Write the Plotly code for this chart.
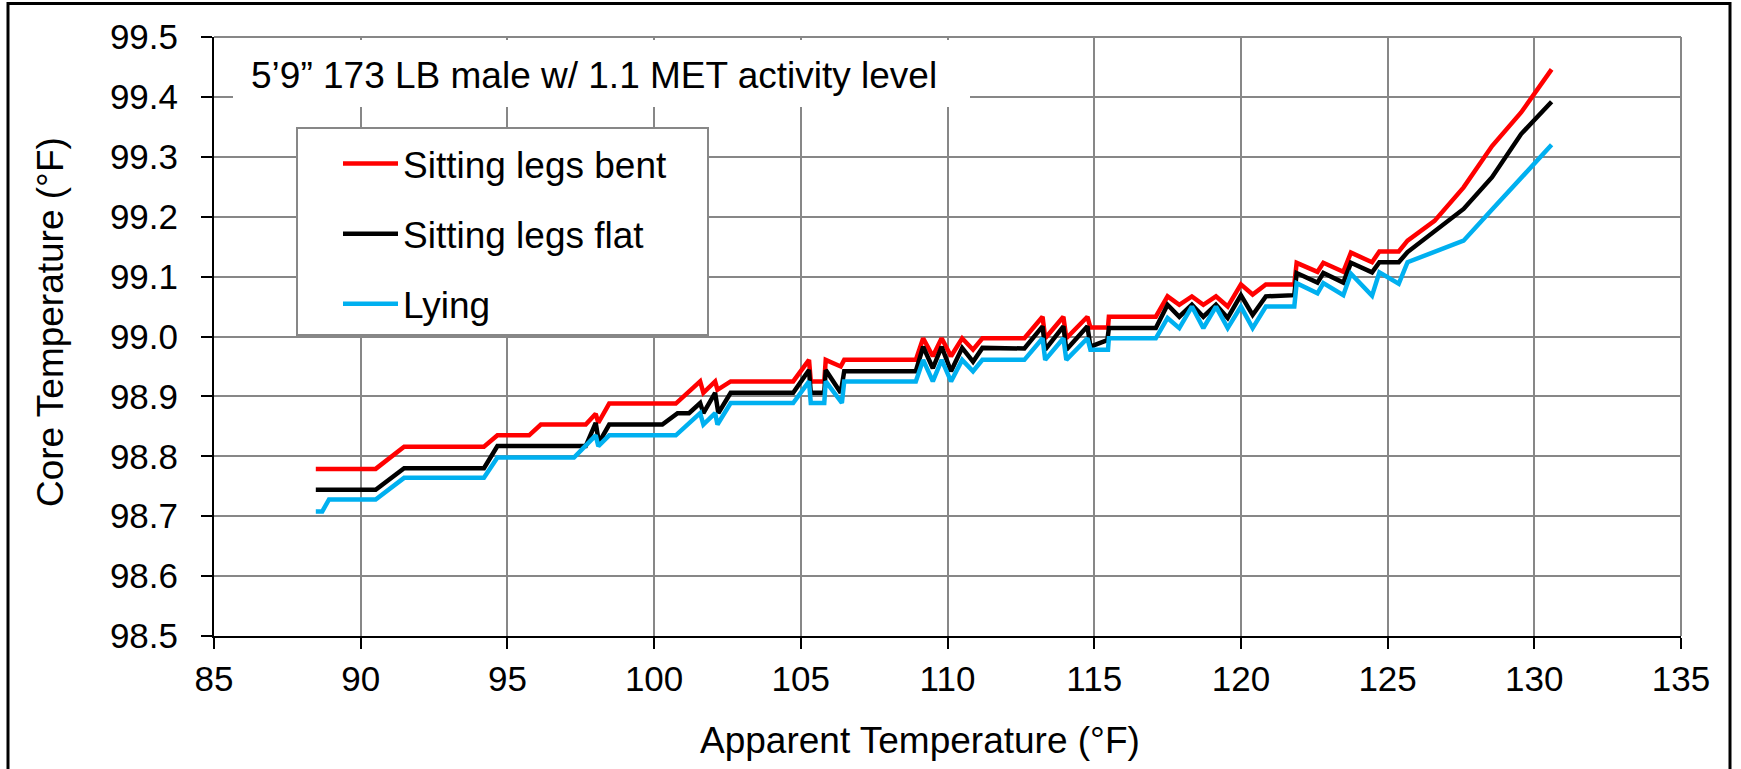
import plotly.graph_objects as go

# ---------------- data ----------------
series_names = ["Sitting legs bent", "Sitting legs flat", "Lying"]

red_x = [88.47, 90.51, 91.48, 94.2, 94.66, 95.74, 96.14, 97.67, 98.01, 98.1, 98.47, 100.74,
         101.57, 101.68, 102.08, 102.16, 102.61, 104.74, 105.28, 105.34, 105.8, 105.85, 106.36,
         106.48, 108.92, 109.17, 109.5, 109.8, 110.12, 110.5, 110.87, 111.19, 112.62, 113.24,
         113.33, 113.95, 114.05, 114.77, 114.87, 115.47, 115.5, 117.1, 117.5, 117.9, 118.33,
         118.72, 119.15, 119.55, 120.0, 120.4, 120.85, 121.82, 121.9, 122.61, 122.81, 123.49,
         123.75, 124.47, 124.72, 125.38, 125.68, 126.6, 127.59, 128.56, 129.55, 130.59]
red_y = [98.779, 98.779, 98.816, 98.816, 98.835, 98.835, 98.853, 98.853, 98.871, 98.856, 98.888,
         98.888, 98.925, 98.906, 98.925, 98.911, 98.925, 98.925, 98.961, 98.925, 98.925, 98.961,
         98.950, 98.961, 98.961, 98.997, 98.967, 98.997, 98.967, 98.997, 98.978, 98.997, 98.997,
         99.033, 98.997, 99.033, 98.997, 99.033, 99.015, 99.015, 99.033, 99.033, 99.067, 99.053,
         99.067, 99.053, 99.067, 99.050, 99.087, 99.070, 99.087, 99.087, 99.123, 99.108, 99.123,
         99.108, 99.140, 99.124, 99.142, 99.142, 99.160, 99.193, 99.249, 99.318, 99.374, 99.446]

black_x = [88.47, 90.51, 91.48, 94.2, 94.66, 97.67, 98.01, 98.12, 98.47, 100.28, 100.8, 101.19,
           101.57, 101.68, 102.08, 102.19, 102.61, 104.74, 105.28, 105.34, 105.8, 105.85, 106.36,
           106.48, 108.92, 109.17, 109.5, 109.8, 110.12, 110.5, 110.87, 111.19, 112.62, 113.24,
           113.33, 113.95, 114.05, 114.77, 114.87, 115.45, 115.5, 117.1, 117.5, 117.9, 118.33,
           118.72, 119.15, 119.55, 120.0, 120.4, 120.85, 121.82, 121.9, 122.61, 122.81, 123.49,
           123.75, 124.47, 124.72, 125.38, 125.68, 126.6, 127.59, 128.56, 129.55, 130.59]
black_y = [98.744, 98.744, 98.780, 98.780, 98.817, 98.817, 98.856, 98.823, 98.853, 98.853, 98.872,
           98.872, 98.889, 98.872, 98.906, 98.872, 98.906, 98.906, 98.944, 98.906, 98.906, 98.944,
           98.906, 98.942, 98.942, 98.983, 98.947, 98.983, 98.942, 98.981, 98.958, 98.981, 98.980,
           99.017, 98.978, 99.017, 98.978, 99.017, 98.983, 98.994, 99.014, 99.014, 99.053, 99.033,
           99.053, 99.033, 99.053, 99.031, 99.069, 99.036, 99.067, 99.069, 99.106, 99.090, 99.106,
           99.090, 99.123, 99.107, 99.124, 99.124, 99.141, 99.175, 99.213, 99.266, 99.338, 99.392]

blue_x = [88.47, 88.69, 88.92, 90.51, 91.48, 94.2, 94.66, 97.27, 98.01, 98.1, 98.47, 100.74,
          101.57, 101.68, 102.08, 102.16, 102.61, 104.74, 105.28, 105.34, 105.8, 105.85, 106.4,
          106.48, 108.92, 109.17, 109.5, 109.8, 110.12, 110.5, 110.87, 111.19, 112.62, 113.24,
          113.33, 113.95, 114.05, 114.77, 114.87, 115.47, 115.5, 117.1, 117.5, 117.9, 118.33,
          118.72, 119.15, 119.55, 120.0, 120.4, 120.85, 121.82, 121.9, 122.61, 122.81, 123.49,
          123.75, 124.47, 124.72, 125.38, 125.68, 127.59, 128.56, 129.55, 130.59]
blue_y = [98.708, 98.708, 98.728, 98.728, 98.764, 98.764, 98.798, 98.798, 98.835, 98.817, 98.835,
          98.835, 98.872, 98.853, 98.872, 98.853, 98.889, 98.889, 98.925, 98.889, 98.889, 98.925,
          98.889, 98.925, 98.925, 98.961, 98.925, 98.961, 98.925, 98.961, 98.942, 98.961, 98.961,
          98.997, 98.961, 98.997, 98.961, 98.997, 98.978, 98.978, 98.997, 98.997, 99.031, 99.014,
          99.050, 99.014, 99.050, 99.014, 99.050, 99.014, 99.050, 99.050, 99.089, 99.072, 99.089,
          99.069, 99.105, 99.068, 99.107, 99.088, 99.124, 99.160, 99.212, 99.265, 99.320]

x_ticks = [85, 90, 95, 100, 105, 110, 115, 120, 125, 130, 135]
y_ticks = [98.5, 98.6, 98.7, 98.8, 98.9, 99.0, 99.1, 99.2, 99.3, 99.4, 99.5]

chart_title = "5\u20199\u201d 173 LB male w/ 1.1 MET activity level"
x_title = "Apparent Temperature (\u00b0F)"
y_title = "Core Temperature (\u00b0F)"

# ---------------- layout geometry ----------------
W, H = 1741, 769
L, R, T, B = 214, 60, 37, 133
PW, PH = W - L - R, H - T - B
FONT = "Liberation Sans, Arial, sans-serif"


def px_x(p):
    return (p - L) / PW


def px_y(p):
    return (H - B - p) / PH


colors = ["#FF0000", "#000000", "#00B0F0"]
xs = [red_x, black_x, blue_x]
ys = [red_y, black_y, blue_y]

fig = go.Figure()
for i, (name, x, y, c) in enumerate(zip(series_names, xs, ys, colors)):
    fig.add_trace(go.Scatter(
        x=x, y=y, mode="lines", name=name, legendgroup=f"g{i}",
        line=dict(color=c, width=4.5),
    ))

axis_common = dict(
    showgrid=True, gridcolor="#878787", gridwidth=2,
    showline=True, linecolor="black", linewidth=2,
    ticks="outside", ticklen=11, tickwidth=2, tickcolor="black",
    tickfont=dict(family=FONT, size=35, color="black"),
    zeroline=False,
)

fig.update_xaxes(range=[85, 135], tickvals=x_ticks, **axis_common)
fig.update_yaxes(range=[98.5, 99.5], tickvals=y_ticks, tickformat=".1f",
                 ticklabelstandoff=16, **axis_common)

shapes = [
    # top and right plot edges (grey, like grid)
    dict(type="line", xref="paper", yref="paper", x0=0, x1=1, y0=1, y1=1,
         line=dict(color="#878787", width=2), layer="above"),
    dict(type="line", xref="paper", yref="paper", x0=1, x1=1, y0=0, y1=1,
         line=dict(color="#878787", width=2), layer="above"),
    # title box
    dict(type="rect", xref="paper", yref="paper",
         x0=px_x(233), x1=px_x(970), y0=px_y(107), y1=px_y(40),
         fillcolor="white", line=dict(width=0), layer="above"),
    # legend box
    dict(type="rect", xref="paper", yref="paper",
         x0=px_x(297), x1=px_x(708), y0=px_y(335), y1=px_y(128),
         fillcolor="white", line=dict(color="#878787", width=2), layer="above"),
    # outer chart frame
    dict(type="rect", xref="paper", yref="paper",
         x0=px_x(8), x1=px_x(1730), y0=px_y(800), y1=px_y(3.5),
         fillcolor="rgba(0,0,0,0)", line=dict(color="black", width=3), layer="above"),
]

annotations = [
    dict(text=chart_title, xref="paper", yref="paper", x=px_x(249), y=px_y(76),
         xanchor="left", yanchor="middle", showarrow=False,
         font=dict(family=FONT, size=37, color="black")),
    dict(text=x_title, xref="paper", yref="paper", x=px_x(920), y=px_y(740),
         xanchor="center", yanchor="middle", showarrow=False,
         font=dict(family=FONT, size=37, color="black")),
    dict(text=y_title, xref="paper", yref="paper", x=px_x(50), y=px_y(322),
         xanchor="center", yanchor="middle", showarrow=False, textangle=-90,
         font=dict(family=FONT, size=37, color="black")),
]

fig.update_layout(
    width=W, height=H,
    margin=dict(l=L, r=R, t=T, b=B, pad=0),
    paper_bgcolor="white", plot_bgcolor="white",
    font=dict(family=FONT, color="black"),
    shapes=shapes,
    annotations=annotations,
    showlegend=True,
    legend=dict(
        x=px_x(338), y=px_y(133), xanchor="left", yanchor="top",
        bgcolor="rgba(0,0,0,0)", borderwidth=0,
        font=dict(family=FONT, size=37, color="black"),
        itemwidth=55, traceorder="grouped", tracegroupgap=19,
    ),
)

fig.write_html("out.html")
